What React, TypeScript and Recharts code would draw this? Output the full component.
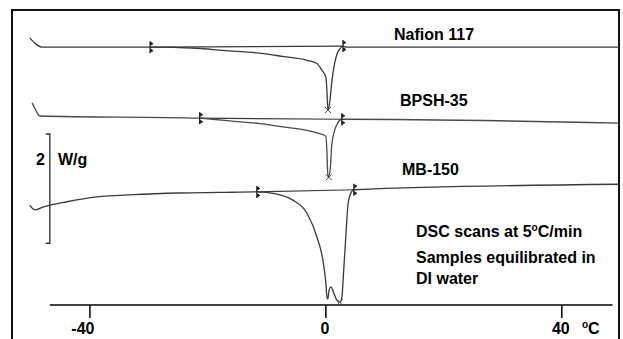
import React from 'react';
import { ComposedChart, Line, XAxis, YAxis, Scatter, ReferenceLine } from 'recharts';

// temperature (°C) vs heat flow (W/g, each trace offset)
const nafionT = [-50.2, -49.2, -48.1, -29.8, -21.9, -17.5, -11.2, -7.3, -3.2, -1.5, -0.7, 0, 0.17, 0.35, 0.7, 1.0, 1.5, 1.9, 2.4, 2.9, 3.4, 49.7];
const nafionQ = [4.89, 4.78, 4.72, 4.72, 4.70, 4.66, 4.61, 4.55, 4.48, 4.42, 4.30, 4.17, 3.94, 3.57, 3.75, 4.08, 4.43, 4.60, 4.69, 4.74, 4.72, 4.72];

const bpshT = [-49.8, -49.2, -48.5, -21.4, -19.3, -16.3, -11.2, -7.3, -1.5, 0, 0.17, 0.35, 0.7, 1.0, 1.5, 2.0, 2.7, 49.7];
const bpshQ = [3.70, 3.57, 3.46, 3.42, 3.40, 3.37, 3.32, 3.26, 3.15, 3.09, 2.84, 2.34, 2.44, 2.93, 3.20, 3.33, 3.40, 3.33];

const mbT = [-50.2, -49.3, -48.0, -43.9, -38.8, -32.7, -24.7, -18.0, -11.7, -8.3, -5.6, -3.2, -1.5, -0.5, 0, 0.17, 0.34, 0.5, 0.85, 1.35, 1.85, 2.35, 2.7, 3.05, 3.4, 3.7, 4.05, 4.75, 49.7];
const mbQ = [1.83, 1.74, 1.79, 1.89, 1.98, 2.02, 2.05, 2.06, 2.07, 2.03, 1.92, 1.68, 1.24, 0.82, 0.40, 0.16, 0.11, 0.24, 0.33, 0.22, 0.09, 0.05, 0.13, 0.68, 1.28, 1.78, 2.00, 2.11, 2.21];

// integration limits (onset / end) and peak markers
const limitT = [-29.8, 2.9, -21.4, 2.7, -11.7, 4.75];
const limitQ = [4.72, 4.74, 3.42, 3.40, 2.07, 2.11];
const peakT = [0.35, 0.5, 2.35];
const peakQ = [3.57, 2.34, 0.05];

// 2 W/g scale bar
const scaleT = [-47.5, -46.8, -46.8, -47.5];
const scaleQ = [3.13, 3.13, 1.13, 1.13];

const xTicks = [-40, 0, 40];

const pts = (t: number[], q: number[]) => t.map((v, i) => ({ t: v, q: q[i] }));

const nafion = pts(nafionT, nafionQ);
const bpsh = pts(bpshT, bpshQ);
const mb = pts(mbT, mbQ);
const baselines = [0, 2, 4].map((i) => pts([limitT[i], limitT[i + 1]], [limitQ[i], limitQ[i + 1]]));
const limits = pts(limitT, limitQ);
const peaks = pts(peakT, peakQ);
const scaleBar = pts(scaleT, scaleQ);

const INK = '#3a3a3a';
const FONT = "'Liberation Sans', Arial, sans-serif";

const LimitMark = (props: any) => {
  const { cx, cy } = props;
  return (
    <g stroke="#222" fill="#222">
      <line x1={cx} y1={cy - 6} x2={cx} y2={cy + 6} strokeWidth={1.3} />
      <path d={`M${cx + 0.5},${cy - 5} l2.5,1.5 l-2.5,1.5 z`} />
      <path d={`M${cx + 0.5},${cy + 2} l2.5,1.5 l-2.5,1.5 z`} />
    </g>
  );
};

const PeakMark = (props: any) => {
  const { cx, cy } = props;
  return (
    <g stroke="#444" strokeWidth={1}>
      <line x1={cx - 3} y1={cy - 3} x2={cx + 3} y2={cy + 3} />
      <line x1={cx - 3} y1={cy + 3} x2={cx + 3} y2={cy - 3} />
    </g>
  );
};

const TempTick = (props: any) => {
  const { x, y, payload } = props;
  return (
    <text x={x + (payload.value < 0 ? -7 : -1)} y={y} dy="0.71em" textAnchor="middle"
      fontFamily={FONT} fontSize={16} fontWeight="bold" fill="#000">
      {payload.value}
    </text>
  );
};

const txt = (left: number, top: number): React.CSSProperties => ({
  position: 'absolute', left, top, fontFamily: FONT, fontSize: 16, lineHeight: '16px',
  fontWeight: 'bold', color: '#000', whiteSpace: 'nowrap',
});

const sup: React.CSSProperties = { fontSize: 10, verticalAlign: '6px', lineHeight: 0 };

export default function App() {
  return (
    <div style={{ position: 'absolute', left: 0, top: 0, width: 623, height: 339, background: '#fff', overflow: 'hidden' }}>
      <div style={{
        position: 'absolute', left: 11, top: 9, width: 609, height: 330, boxSizing: 'border-box',
        borderTop: '2px solid #111', borderLeft: '2px solid #111', borderRight: '2px solid #111',
      }} />
      <ComposedChart width={623} height={339} margin={{ top: 10, right: 4, left: 28, bottom: 4 }}
        style={{ position: 'absolute', left: 0, top: 0 }}>
        <XAxis type="number" dataKey="t" domain={[-50.5, 49.7]} ticks={xTicks} height={30}
          axisLine={false} tickSize={13} tickMargin={5} tickLine={{ stroke: '#000', strokeWidth: 1.5 }}
          tick={<TempTick />} />
        <YAxis type="number" dataKey="q" domain={[0, 5.4]} hide />
        <ReferenceLine segment={[{ x: -46.8, y: 0 }, { x: 48.6, y: 0 }]} stroke="#000" strokeWidth={1.5} />
        <Line data={scaleBar} dataKey="q" type="linear" stroke="#333" strokeWidth={1.4} dot={false} isAnimationActive={false} />
        {baselines.map((b, i) => (
          <Line key={i} data={b} dataKey="q" type="linear" stroke={INK} strokeWidth={1.2} dot={false} isAnimationActive={false} />
        ))}
        <Line data={nafion} dataKey="q" type="monotone" stroke={INK} strokeWidth={1.3} dot={false} isAnimationActive={false} />
        <Line data={bpsh} dataKey="q" type="monotone" stroke="#4a4a4a" strokeWidth={1.3} dot={false} isAnimationActive={false} />
        <Line data={mb} dataKey="q" type="monotone" stroke={INK} strokeWidth={1.3} dot={false} isAnimationActive={false} />
        <Scatter data={limits} dataKey="q" shape={<LimitMark />} isAnimationActive={false} />
        <Scatter data={peaks} dataKey="q" shape={<PeakMark />} isAnimationActive={false} />
      </ComposedChart>
      <div style={txt(394, 26.5)}>Nafion 117</div>
      <div style={txt(400, 93)}>BPSH-35</div>
      <div style={txt(402, 161.5)}>MB-150</div>
      <div style={txt(36, 151.5)}>2</div>
      <div style={txt(58, 151.5)}>W/g</div>
      <div style={txt(416, 224)}>DSC scans at 5<span style={sup}>o</span>C/min</div>
      <div style={txt(416, 249.5)}>Samples equilibrated in</div>
      <div style={txt(416, 270.5)}>DI water</div>
      <div style={txt(582, 320.5)}><span style={sup}>o</span>C</div>
    </div>
  );
}
